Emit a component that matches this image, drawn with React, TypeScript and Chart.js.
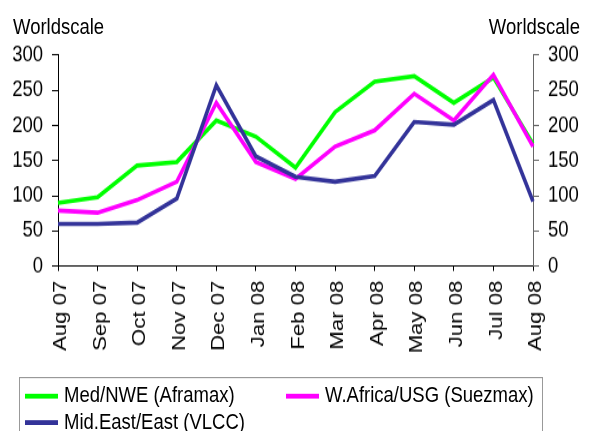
import React, { useEffect, useRef } from "react";
import { Chart, registerables } from "chart.js";

Chart.register(...registerables);

const months = [
  "Aug 07", "Sep 07", "Oct 07", "Nov 07", "Dec 07", "Jan 08", "Feb 08",
  "Mar 08", "Apr 08", "May 08", "Jun 08", "Jul 08", "Aug 08",
];
const medNwe = [90, 98, 143, 148, 207, 184, 140, 219, 262, 270, 232, 268, 174];
const wafUsg = [79, 76, 94, 120, 232, 148, 124, 170, 193, 245, 207, 272, 170];
const megEast = [60, 60, 62, 96, 257, 156, 127, 120, 128, 205, 201, 236, 92];
const yTicks = [0, 50, 100, 150, 200, 250, 300];

const seriesNames = ["Med/NWE (Aframax)", "W.Africa/USG (Suezmax)", "Mid.East/East (VLCC)"];
const seriesColors = ["#00ff00", "#ff00ff", "#333399"];

const FONT = "'Liberation Sans', Arial, sans-serif";
const W = 595;
const H = 359;
const SY = 431 / H;

export default function App() {
  const ref = useRef<HTMLCanvasElement>(null);

  useEffect(() => {
    const tickFont = { family: FONT, size: 18.5 };
    const setTicks = (s: any) => {
      s.ticks = yTicks.map((v) => ({ value: v }));
    };
    const chart = new Chart(ref.current as HTMLCanvasElement, {
      type: "line",
      data: {
        labels: months,
        datasets: [
          { label: seriesNames[2], data: megEast, borderColor: seriesColors[2], yAxisID: "y" },
          { label: seriesNames[1], data: wafUsg, borderColor: seriesColors[1], yAxisID: "y" },
          { label: seriesNames[0], data: medNwe, borderColor: seriesColors[0], yAxisID: "y" },
        ].map((d) => ({
          ...d,
          borderWidth: 3.6,
          pointRadius: 0,
          tension: 0,
          fill: false,
          borderJoinStyle: "miter" as const,
          borderCapStyle: "butt" as const,
        })),
      },
      options: {
        animation: false,
        responsive: false,
        layout: { padding: { top: 45.8, left: 0, right: 0, bottom: 0 } },
        plugins: { legend: { display: false }, tooltip: { enabled: false } },
        scales: {
          x: {
            offset: false,
            grid: { drawOnChartArea: false, tickLength: 4, color: "#000" },
            border: { color: "#000", width: 1 },
            ticks: {
              minRotation: 90,
              maxRotation: 90,
              autoSkip: false,
              font: tickFont,
              color: "#000",
              padding: 8,
              labelOffset: 3,
            },
            afterFit: (s: any) => {
              s.height = H - 221.7;
            },
          },
          y: {
            position: "left",
            min: 0,
            max: 300,
            afterBuildTicks: setTicks,
            ticks: { font: tickFont, color: "#000", padding: 9 },
            grid: { drawOnChartArea: false, tickLength: 6, color: "#000" },
            border: { color: "#000", width: 1 },
            afterFit: (s: any) => {
              s.width = 58;
            },
          },
          y2: {
            position: "right",
            min: 0,
            max: 300,
            afterBuildTicks: setTicks,
            ticks: { font: tickFont, color: "#000", padding: 9 },
            grid: { drawOnChartArea: false, tickLength: 6, color: "#666" },
            border: { color: "#666", width: 1 },
            afterFit: (s: any) => {
              s.width = W - 533;
            },
          },
        },
      },
    });
    return () => chart.destroy();
  }, []);

  const textStyle: React.CSSProperties = {
    position: "absolute",
    fontFamily: FONT,
    fontSize: 18.5,
    lineHeight: "18.5px",
    color: "#000",
    whiteSpace: "nowrap",
  };

  const legendItem = (i: number, left: number, top: number) => (
    <div key={i} style={{ position: "absolute", left, top, height: 20 }}>
      <div
        style={{
          position: "absolute",
          left: 0,
          top: 8,
          width: 33,
          height: 3.6,
          background: seriesColors[i],
        }}
      />
      <div style={{ ...textStyle, left: 39, top: 0 }}>{seriesNames[i]}</div>
    </div>
  );

  return (
    <div
      style={{
        position: "absolute",
        left: 0,
        top: 0,
        width: W,
        height: H,
        transform: `scaleY(${SY})`,
        transformOrigin: "0 0",
        background: "#fff",
        overflow: "hidden",
      }}
    >
      <canvas ref={ref} width={W} height={H} style={{ position: "absolute", left: 0, top: 0 }} />
      <div style={{ ...textStyle, left: 13, top: 12.7 }}>Worldscale</div>
      <div style={{ ...textStyle, right: 15, top: 12.7 }}>Worldscale</div>
      <div
        style={{
          position: "absolute",
          left: 19,
          top: 314,
          width: 524,
          height: 70,
          border: "1px solid #999",
          boxSizing: "border-box",
        }}
      />
      {legendItem(0, 25, 320)}
      {legendItem(1, 286, 320)}
      {legendItem(2, 25, 342)}
    </div>
  );
}
